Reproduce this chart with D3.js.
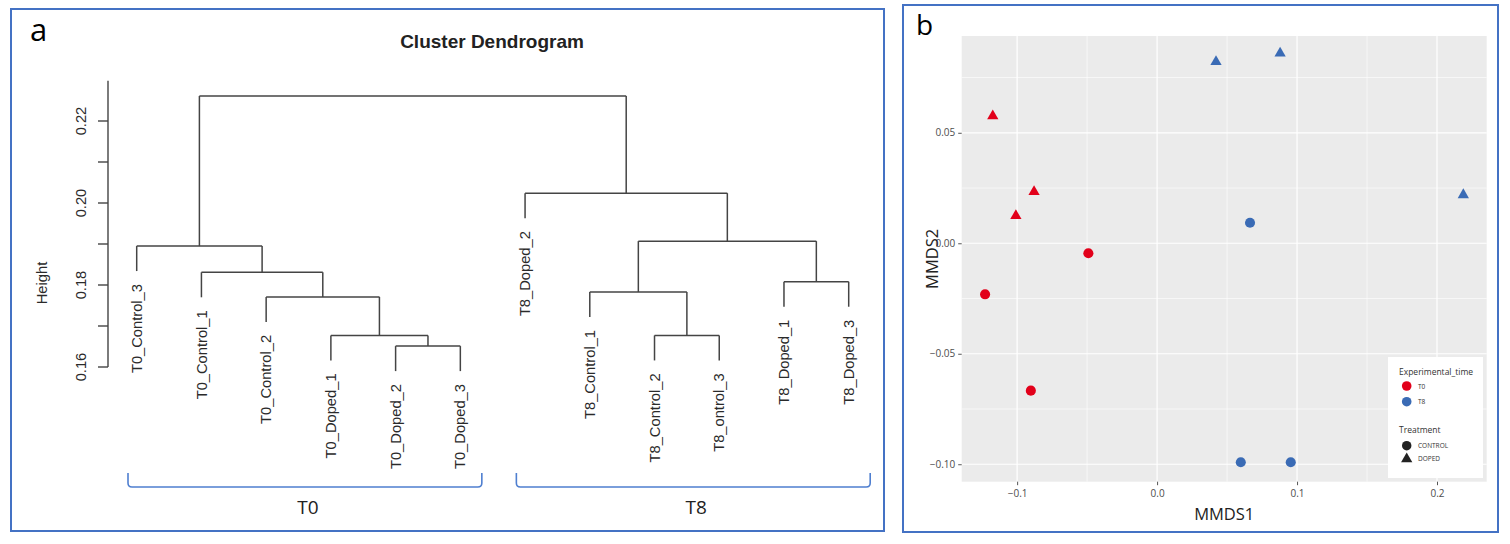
<!DOCTYPE html>
<html>
<head>
<meta charset="utf-8">
<script src="https://cdn.jsdelivr.net/npm/d3@7"></script>
<style>
  body { margin: 0; background: #fff; }
  svg { display: block; }
</style>
</head>
<body>
<script>
// dendrogram leaves, in plotted order
var leaves = ["T0_Control_3", "T0_Control_1", "T0_Control_2", "T0_Doped_1", "T0_Doped_2", "T0_Doped_3",
              "T8_Doped_2", "T8_Control_1", "T8_Control_2", "T8_ontrol_3", "T8_Doped_1", "T8_Doped_3"];
// merges like R hclust: negative = leaf (1-based), positive = earlier merge
var mergeLeft   = [-5, -9, -4, -3, -8, -11, -2, -1, 5, -7, 8];
var mergeRight  = [-6, -10, 1, 3, 2, -12, 4, 7, 6, 9, 10];
var mergeHeight = [0.1651, 0.1677, 0.1677, 0.1771, 0.1783, 0.1808, 0.1831, 0.1895, 0.1907, 0.2024, 0.2261];
var heightTicks = [0.16, 0.17, 0.18, 0.19, 0.20, 0.21, 0.22];
var groups = ["T0", "T8"];
var groupFirst = [0, 6];
var groupLast = [5, 11];

// MDS points
var mdsTime = ["T0", "T0", "T0", "T0", "T0", "T0", "T8", "T8", "T8", "T8", "T8", "T8"];
var mdsTreatment = ["DOPED", "DOPED", "DOPED", "CONTROL", "CONTROL", "CONTROL",
                    "DOPED", "DOPED", "DOPED", "CONTROL", "CONTROL", "CONTROL"];
var mmds1 = [-0.1174, -0.0879, -0.1009, -0.0491, -0.1229, -0.0902, 0.0421, 0.0879, 0.2188, 0.0664, 0.0598, 0.0955];
var mmds2 = [0.0576, 0.0233, 0.0125, -0.0045, -0.0231, -0.0667, 0.0822, 0.0860, 0.0219, 0.0093, -0.0991, -0.0991];
var xTicks = [-0.1, 0.0, 0.1, 0.2];
var yTicks = [-0.10, -0.05, 0.00, 0.05];

var frameBlue = "#4472C4";
var lineCol = "#444444";
var timeColor = d3.scaleOrdinal().domain(["T0", "T8"]).range(["#E2001A", "#3A6BB5"]);
var shape = d3.scaleOrdinal().domain(["CONTROL", "DOPED"]).range([d3.symbolCircle, d3.symbolTriangle]);

var svg = d3.select("body").append("svg")
            .attr("width", 1510)
            .attr("height", 544);

// ---------- panel a ----------
svg.append("rect")
   .attr("x", 11).attr("y", 9).attr("width", 873).attr("height", 522)
   .attr("fill", "#fff").attr("stroke", frameBlue).attr("stroke-width", 2);

svg.append("text")
   .attr("x", 30).attr("y", 41)
   .attr("font-family", "Open Sans").attr("font-size", 31)
   .text("a");

svg.append("text")
   .attr("x", 492).attr("y", 48)
   .attr("text-anchor", "middle")
   .attr("font-family", "Liberation Sans").attr("font-weight", "bold").attr("font-size", 19)
   .attr("fill", "#222")
   .text("Cluster Dendrogram");

var xd = d3.scaleLinear().domain([0, leaves.length - 1]).range([136.7, 848.7]);
var yd = d3.scaleLinear().domain([0.16, 0.23]).range([367, 80]);

var hang = 0.1 * (d3.max(mergeHeight) - d3.min(mergeHeight));

// positions of merges
var nodeX = [], segs = [], leafEnds = [];
var childX = function (c) { return c < 0 ? xd(-c - 1) : nodeX[c - 1]; };
var childY = function (c, h) { return c < 0 ? yd(h - hang) : yd(mergeHeight[c - 1]); };
mergeHeight.forEach(function (h, i) {
  var l = mergeLeft[i], r = mergeRight[i];
  var x1 = childX(l), x2 = childX(r);
  nodeX.push((x1 + x2) / 2);
  segs.push([x1, childY(l, h), x1, yd(h)]);
  segs.push([x1, yd(h), x2, yd(h)]);
  segs.push([x2, yd(h), x2, childY(r, h)]);
  [l, r].forEach(function (c) {
    if (c < 0) leafEnds.push({ name: leaves[-c - 1], x: xd(-c - 1), y: yd(h - hang) });
  });
});

svg.append("g").selectAll("line")
   .data(segs)
   .enter().append("line")
   .attr("x1", d => d[0]).attr("y1", d => d[1])
   .attr("x2", d => d[2]).attr("y2", d => d[3])
   .attr("stroke", lineCol).attr("stroke-width", 1.5);

svg.append("g").selectAll("text")
   .data(leafEnds)
   .enter().append("text")
   .attr("transform", d => `translate(${d.x},${d.y + 13}) rotate(-90)`)
   .attr("text-anchor", "end")
   .attr("dy", "0.35em")
   .attr("font-family", "Liberation Sans").attr("font-size", 14.7)
   .attr("fill", "#2a2a2a")
   .text(d => d.name);

// height axis
var ya = svg.append("g");
ya.append("line")
  .attr("x1", 108).attr("x2", 108)
  .attr("y1", yd(0.16)).attr("y2", yd(0.2298))
  .attr("stroke", lineCol).attr("stroke-width", 1.4);
ya.selectAll("line.tick")
  .data(heightTicks)
  .enter().append("line")
  .attr("class", "tick")
  .attr("x1", 98).attr("x2", 108)
  .attr("y1", d => yd(d)).attr("y2", d => yd(d))
  .attr("stroke", lineCol).attr("stroke-width", 1.4);
ya.selectAll("text")
  .data(heightTicks.filter((d, i) => i % 2 === 0))
  .enter().append("text")
  .attr("transform", d => `translate(86,${yd(d)}) rotate(-90)`)
  .attr("text-anchor", "middle")
  .attr("font-family", "Liberation Sans").attr("font-size", 14.7)
  .attr("fill", "#2a2a2a")
  .text(d => d3.format(".2f")(d));

svg.append("text")
   .attr("transform", "translate(47,283) rotate(-90)")
   .attr("text-anchor", "middle")
   .attr("font-family", "Liberation Sans").attr("font-size", 14.7)
   .attr("fill", "#2a2a2a")
   .text("Height");

// group brackets
var bracket = function (x1, x2, top, bottom) {
  var r = 4;
  return `M${x1},${top} L${x1},${bottom - r} Q${x1},${bottom} ${x1 + r},${bottom} ` +
         `L${x2 - r},${bottom} Q${x2},${bottom} ${x2},${bottom - r} L${x2},${top}`;
};
var groupPad = 8.7;
groups.forEach(function (g, i) {
  var x1 = xd(groupFirst[i]) - groupPad, x2 = xd(groupLast[i]) + 21.5;
  svg.append("path")
     .attr("d", bracket(x1, x2, 473, 487))
     .attr("fill", "none")
     .attr("stroke", "#4F7FD0").attr("stroke-width", 1.6);
  svg.append("text")
     .attr("x", (x1 + x2) / 2 + 3).attr("y", 514)
     .attr("text-anchor", "middle")
     .attr("font-family", "Open Sans").attr("font-size", 19)
     .attr("fill", "#222")
     .text(g);
});

// ---------- panel b ----------
svg.append("rect")
   .attr("x", 903).attr("y", 5).attr("width", 595).attr("height", 527)
   .attr("fill", "#fff").attr("stroke", frameBlue).attr("stroke-width", 2);

svg.append("text")
   .attr("x", 916).attr("y", 35)
   .attr("font-family", "Open Sans").attr("font-size", 28)
   .text("b");

var xm = d3.scaleLinear().domain([-0.1396, 0.2355]).range([961.7, 1486.7]);
var ym = d3.scaleLinear().domain([-0.1079, 0.0938]).range([481.7, 36]);

svg.append("rect")
   .attr("x", xm.range()[0]).attr("y", ym.range()[1])
   .attr("width", xm.range()[1] - xm.range()[0])
   .attr("height", ym.range()[0] - ym.range()[1])
   .attr("fill", "#EBEBEB");

var grid = svg.append("g").attr("stroke", "#fff");
var xMinor = [-0.05, 0.05, 0.15], yMinor = [-0.075, -0.025, 0.025, 0.075];
grid.selectAll("line.vminor").data(xMinor).enter().append("line")
    .attr("x1", d => xm(d)).attr("x2", d => xm(d))
    .attr("y1", ym.range()[0]).attr("y2", ym.range()[1]).attr("stroke-width", 0.6);
grid.selectAll("line.hminor").data(yMinor).enter().append("line")
    .attr("y1", d => ym(d)).attr("y2", d => ym(d))
    .attr("x1", xm.range()[0]).attr("x2", xm.range()[1]).attr("stroke-width", 0.6);
grid.selectAll("line.vmajor").data(xTicks).enter().append("line")
    .attr("x1", d => xm(d)).attr("x2", d => xm(d))
    .attr("y1", ym.range()[0]).attr("y2", ym.range()[1]).attr("stroke-width", 1.2);
grid.selectAll("line.hmajor").data(yTicks).enter().append("line")
    .attr("y1", d => ym(d)).attr("y2", d => ym(d))
    .attr("x1", xm.range()[0]).attr("x2", xm.range()[1]).attr("stroke-width", 1.2);

var minus = s => s.replace("-", "\u2212");
svg.append("g")
   .attr("transform", `translate(0,${ym.range()[0]})`)
   .call(d3.axisBottom(xm).tickValues(xTicks).tickSize(3.5).tickPadding(5).tickFormat(d => minus(d3.format(".1f")(d))))
   .call(g => g.select(".domain").remove())
   .call(g => g.selectAll("line").attr("stroke", "#555"))
   .call(g => g.selectAll("text").attr("font-family", "Open Sans").attr("font-size", 10).attr("fill", "#4D4D4D"));

svg.append("g")
   .attr("transform", `translate(${xm.range()[0]},0)`)
   .call(d3.axisLeft(ym).tickValues(yTicks).tickSize(3.5).tickPadding(3).tickFormat(d => minus(d3.format(".2f")(d))))
   .call(g => g.select(".domain").remove())
   .call(g => g.selectAll("line").attr("stroke", "#555"))
   .call(g => g.selectAll("text").attr("font-family", "Open Sans").attr("font-size", 10).attr("fill", "#4D4D4D"));

svg.append("text")
   .attr("x", (xm.range()[0] + xm.range()[1]) / 2).attr("y", 520)
   .attr("text-anchor", "middle")
   .attr("font-family", "Open Sans").attr("font-size", 16.5)
   .attr("fill", "#222")
   .text("MMDS1");

svg.append("text")
   .attr("transform", `translate(938,${(ym.range()[0] + ym.range()[1]) / 2}) rotate(-90)`)
   .attr("text-anchor", "middle")
   .attr("font-family", "Open Sans").attr("font-size", 16.5)
   .attr("fill", "#222")
   .text("MMDS2");

svg.append("g").selectAll("path")
   .data(mmds1.map((d, i) => ({ x: d, y: mmds2[i], t: mdsTime[i], s: mdsTreatment[i] })))
   .enter().append("path")
   .attr("transform", d => `translate(${xm(d.x)},${ym(d.y)})`)
   .attr("d", d => d3.symbol().type(shape(d.s)).size(d.s === "DOPED" ? 55 : 80)())
   .attr("fill", d => timeColor(d.t));

// legend
var leg = svg.append("g").attr("transform", "translate(1388,357)");
leg.append("rect").attr("width", 95).attr("height", 121).attr("fill", "#fff");
leg.append("text").attr("x", 11).attr("y", 18)
   .attr("font-family", "Open Sans").attr("font-size", 8.5).attr("fill", "#333")
   .text("Experimental_time");
groups.forEach(function (g, i) {
  leg.append("circle").attr("cx", 18.7).attr("cy", 29 + i * 15.7).attr("r", 4.8).attr("fill", timeColor(g));
  leg.append("text").attr("x", 30).attr("y", 31.5 + i * 15.7)
     .attr("font-family", "Open Sans").attr("font-size", 6.5).attr("fill", "#333")
     .text(g);
});
leg.append("text").attr("x", 11).attr("y", 76)
   .attr("font-family", "Open Sans").attr("font-size", 8.5).attr("fill", "#333")
   .text("Treatment");
shape.domain().forEach(function (s, i) {
  leg.append("path")
     .attr("transform", `translate(18.7,${88.7 + i * 13.3})`)
     .attr("d", d3.symbol().type(shape(s)).size(s === "DOPED" ? 55 : 70)())
     .attr("fill", "#222");
  leg.append("text").attr("x", 30).attr("y", 91 + i * 13.3)
     .attr("font-family", "Open Sans").attr("font-size", 6.5).attr("fill", "#333")
     .text(s);
});
</script>
</body>
</html>
